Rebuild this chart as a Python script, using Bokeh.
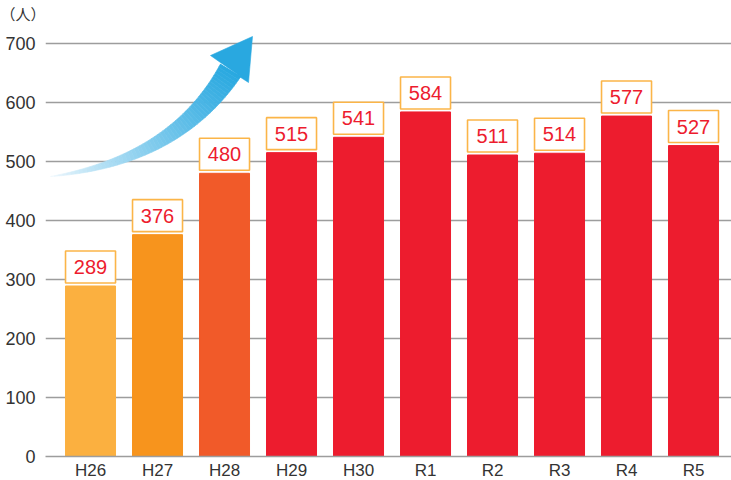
import numpy as np
from bokeh.plotting import figure
from bokeh.models import ColumnDataSource, FixedTicker, Range1d
from bokeh.embed import file_html
from bokeh.resources import INLINE
from bokeh.core.properties import value

# ---- data ----
years = ["H26", "H27", "H28", "H29", "H30", "R1", "R2", "R3", "R4", "R5"]
counts = [289, 376, 480, 515, 541, 584, 511, 514, 577, 527]
bar_colors = ["#FBB040", "#F7941D", "#F15A29", "#ED1C2E", "#ED1C2E",
              "#ED1C2E", "#ED1C2E", "#ED1C2E", "#ED1C2E", "#ED1C2E"]
y_ticks = [0, 100, 200, 300, 400, 500, 600, 700]
unit_label = "（人）"

# ---- layout constants (reference pixels) ----
LEFT, RIGHT, BOTTOM = 45, 731, 456
TOP_BORDER = 6
TITLE_H = 17
FRAME_TOP = TOP_BORDER + TITLE_H
FW, FH = RIGHT - LEFT, BOTTOM - FRAME_TOP
PX700 = 43  # pixel row of the 700 grid line
X0 = -0.672
PPU_X = 67.0
X1 = X0 + FW / PPU_X
PPU_Y = (BOTTOM - PX700) / 700.0
Y0, Y1 = 0, FH / PPU_Y
BAR_W = 50 / PPU_X
BOX_GAP, BOX_H = 3.0, 32.0

FONT = "Liberation Sans"

p = figure(frame_width=FW, frame_height=FH, output_backend="svg",
           toolbar_location=None, x_range=Range1d(X0, X1), y_range=Range1d(Y0, Y1),
           min_border_left=LEFT, min_border_right=0, min_border_top=TOP_BORDER,
           min_border_bottom=24, title=unit_label)
p.outline_line_color = None
p.background_fill_color = "white"
p.border_fill_color = "white"

p.title.align = "left"
p.title.offset = -45
p.title.standoff = 0
p.title.text_font = "Noto Sans CJK JP"
p.title.text_font_style = "normal"
p.title.text_font_size = "15px"
p.title.text_color = "#333333"

xs = list(range(len(years)))
src = ColumnDataSource(dict(x=xs, top=counts, color=bar_colors,
                            label=[str(c) for c in counts],
                            box_y=[c + (BOX_GAP + BOX_H / 2) / PPU_Y for c in counts]))

# axes
p.xaxis.ticker = FixedTicker(ticks=xs)
p.xaxis.major_label_overrides = {i: y for i, y in enumerate(years)}
p.xaxis.axis_line_color = "#9d9d9d"
p.xaxis.axis_line_width = 1.5
p.xaxis.major_tick_line_color = None
p.xaxis.minor_tick_line_color = None
p.xaxis.major_tick_out = 0
p.xaxis.major_tick_in = 0
p.xaxis.minor_tick_out = 0
p.xaxis.major_label_standoff = 4
p.xaxis.major_label_text_font = FONT
p.xaxis.major_label_text_font_size = "17px"
p.xaxis.major_label_text_color = "#333333"

p.yaxis.ticker = FixedTicker(ticks=y_ticks)
p.yaxis.axis_line_color = None
p.yaxis.major_tick_line_color = None
p.yaxis.minor_tick_line_color = None
p.yaxis.major_tick_out = 0
p.yaxis.major_tick_in = 0
p.yaxis.minor_tick_out = 0
p.yaxis.major_label_standoff = 10
p.yaxis.major_label_text_font = FONT
p.yaxis.major_label_text_font_size = "18px"
p.yaxis.major_label_text_color = "#333333"

p.xgrid.grid_line_color = None
p.ygrid.ticker = FixedTicker(ticks=y_ticks)
p.ygrid.grid_line_color = "#9d9d9d"
p.ygrid.grid_line_width = 1.5

# bars
p.vbar(x="x", top="top", bottom=0, width=BAR_W, color="color", source=src)

# label boxes
p.rect(x="x", y="box_y", width=BAR_W, height=BOX_H, height_units="screen",
       fill_color="white", line_color="#FBB548", line_width=1.6, source=src)
p.text(x="x", y="box_y", text="label", text_align="center", text_baseline="middle",
       text_font=value(FONT), text_font_size="20px", text_color="#ED1C2E", source=src)

# ---- decorative arrow (defined in reference pixels) ----
def to_data(xr, yr):
    return X0 + (xr - LEFT) / PPU_X, (BOTTOM - yr) / PPU_Y

P0 = np.array([50.0, 176.0]); P1 = np.array([175.0, 160.0]); P2 = np.array([230.0, 70.0])
N = 60
ts = np.linspace(0, 1, N + 1)
def bez(t):
    return (1 - t) ** 2 * P0 + 2 * (1 - t) * t * P1 + t ** 2 * P2
def tan(t):
    d = 2 * (1 - t) * (P1 - P0) + 2 * t * (P2 - P1)
    return d / np.linalg.norm(d)
tops, bots = [], []
for t in ts:
    c = bez(t); d = tan(t); nrm = np.array([d[1], -d[0]])
    w = 12.0 * t ** 0.9
    tops.append(c - nrm * w); bots.append(c + nrm * w)
c0 = np.array([245, 250, 254]); c1 = np.array([41, 168, 224])
pxs, pys, pcs = [], [], []
for i in range(N):
    pts = [tops[i], tops[i + 1], bots[i + 1], bots[i]]
    dd = [to_data(*q) for q in pts]
    pxs.append([q[0] for q in dd]); pys.append([q[1] for q in dd])
    f = (ts[i] + ts[i + 1]) / 2
    col = c0 + (c1 - c0) * f ** 0.75
    pcs.append("#%02x%02x%02x" % tuple(int(round(v)) for v in col))
p.patches(pxs, pys, fill_color=pcs, line_color=pcs, line_width=0.6)
head = [tops[-1], np.array([210.0, 55.0]), np.array([252.0, 36.0]),
        np.array([248.0, 82.0]), bots[-1]]
hd = [to_data(*q) for q in head]
p.patch([q[0] for q in hd], [q[1] for q in hd], fill_color="#29A8E0",
        line_color="#29A8E0", line_width=0.6)

open("out.html", "w").write(file_html(p, INLINE))
